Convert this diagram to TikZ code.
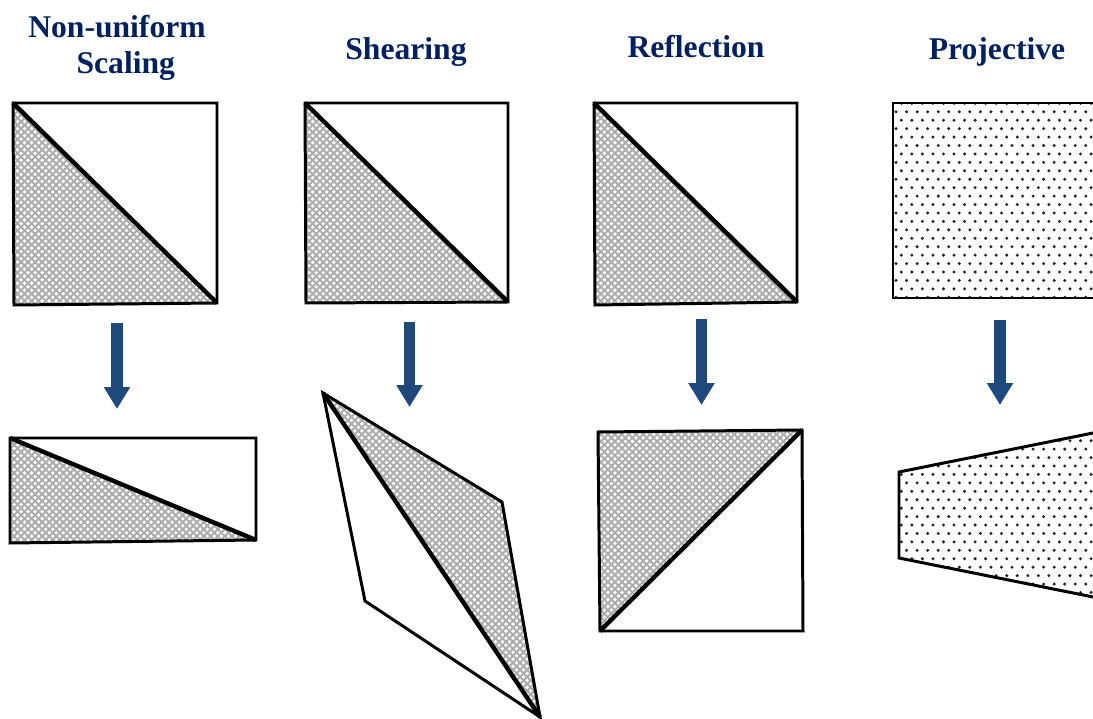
\documentclass[tikz,border=0pt]{standalone}
\usepackage{fontspec}
\setmainfont{Liberation Serif}
\usetikzlibrary{arrows.meta,patterns.meta}

\definecolor{titleblue}{HTML}{002060}
\definecolor{arrowblue}{HTML}{1F497D}

% grey diamond mesh for the triangles
\tikzdeclarepattern{
  name=meshgrey,
  type=uncolored,
  bounding box={(-1pt,-1pt) and (5pt,5pt)},
  tile size={(4pt,4pt)},
  code={
    \draw[line width=1.1pt] (-.5pt,-.5pt) -- (4.5pt,4.5pt);
    \draw[line width=1.1pt] (-.5pt,4.5pt) -- (4.5pt,-.5pt);
  }
}
% staggered dots for the projective plane
\tikzdeclarepattern{
  name=dotgrid,
  type=uncolored,
  bounding box={(-1.5pt,-1.5pt) and (7.5pt,11pt)},
  tile size={(6pt,9.6pt)},
  code={
    \fill (0pt,0pt) circle (.95pt);
    \fill (3pt,4.8pt) circle (.95pt);
  }
}

\tikzset{
  heading/.style={text=titleblue, font=\fontsize{18}{20.5}\selectfont\bfseries, align=center},
  frame/.style={line width=1.7pt, line join=miter},
  cut/.style={line width=2.5pt},
  mesh/.style={pattern=meshgrey, pattern color=gray!65},
  dots/.style={pattern=dotgrid, pattern color=black!85},
  bigarrow/.style={draw=arrowblue, line width=6.8pt, -{Triangle[width=14.2pt,length=12.5pt]}}
}

\begin{document}
\begin{tikzpicture}[x=0.02cm,y=-0.02cm]
\useasboundingbox (0,0) rectangle (1093,719);

% titles
\node[heading,anchor=base] (scaling) at (117,74) {Non-uniform\\\hspace*{10pt}Scaling};
\node[heading,anchor=base] (shearing) at (406,60) {Shearing};
\node[heading,anchor=base] (reflection) at (696,58) {Reflection};
\node[heading,anchor=base] (projective) at (997,60) {Projective};

% non-uniform scaling
\coordinate (p1a) at (13,103);  \coordinate (p1b) at (217,103);
\coordinate (p1c) at (217,303); \coordinate (p1d) at (14,305);
\fill[mesh] (p1a) -- (p1d) -- (p1c) -- cycle;
\draw[frame] (p1a) -- (p1b) -- (p1c) -- (p1d) -- cycle;
\draw[cut] (p1a) -- (p1c);

\coordinate (q1a) at (10,438);  \coordinate (q1b) at (256,438);
\coordinate (q1c) at (256,540); \coordinate (q1d) at (10,543);
\fill[mesh] (q1a) -- (q1d) -- (q1c) -- cycle;
\draw[frame] (q1a) -- (q1b) -- (q1c) -- (q1d) -- cycle;
\draw[cut] (q1a) -- (q1c);

% shearing
\coordinate (p2a) at (305,103); \coordinate (p2b) at (508,103);
\coordinate (p2c) at (508,302); \coordinate (p2d) at (306,303);
\fill[mesh] (p2a) -- (p2d) -- (p2c) -- cycle;
\draw[frame] (p2a) -- (p2b) -- (p2c) -- (p2d) -- cycle;
\draw[cut] (p2a) -- (p2c);

\coordinate (q2a) at (323,393); \coordinate (q2b) at (502,502);
\coordinate (q2c) at (540,717); \coordinate (q2d) at (365,601);
\fill[mesh] (q2a) -- (q2b) -- (q2c) -- cycle;
\draw[frame] (q2a) -- (q2b) -- (q2c) -- (q2d) -- cycle;
\draw[cut] (q2a) -- (q2c);

% reflection
\coordinate (p3a) at (594,103); \coordinate (p3b) at (797,103);
\coordinate (p3c) at (797,302); \coordinate (p3d) at (595,305);
\fill[mesh] (p3a) -- (p3d) -- (p3c) -- cycle;
\draw[frame] (p3a) -- (p3b) -- (p3c) -- (p3d) -- cycle;
\draw[cut] (p3a) -- (p3c);

\coordinate (q3a) at (598,432); \coordinate (q3b) at (802,430);
\coordinate (q3c) at (803,631); \coordinate (q3d) at (600,631);
\fill[mesh] (q3a) -- (q3d) -- (q3b) -- cycle;
\draw[frame] (q3a) -- (q3b) -- (q3c) -- (q3d) -- cycle;
\draw[cut] (q3d) -- (q3b);

% projective (runs off the right edge)
\begin{scope}
  \clip (0,0) rectangle (1093,719);
  \coordinate (p4a) at (893,103); \coordinate (p4c) at (1110,298);
  \draw[frame,dots] (p4a) rectangle (p4c);
  \coordinate (q4a) at (899,472);  \coordinate (q4b) at (1110,429.6);
  \coordinate (q4c) at (1110,600.4); \coordinate (q4d) at (899,558);
  \draw[frame,dots] (q4a) -- (q4b) -- (q4c) -- (q4d) -- cycle;
\end{scope}

% arrows between the rows
\foreach \n/\x/\top/\tip in {1/117/323/409, 2/409.5/322/407, 3/701.5/319/405, 4/1000/320/405} {
  \coordinate (from\n) at (\x,\top);
  \coordinate (to\n) at (\x,\tip);
  \draw[bigarrow] (from\n) -- (to\n);
}
\end{tikzpicture}
\end{document}
